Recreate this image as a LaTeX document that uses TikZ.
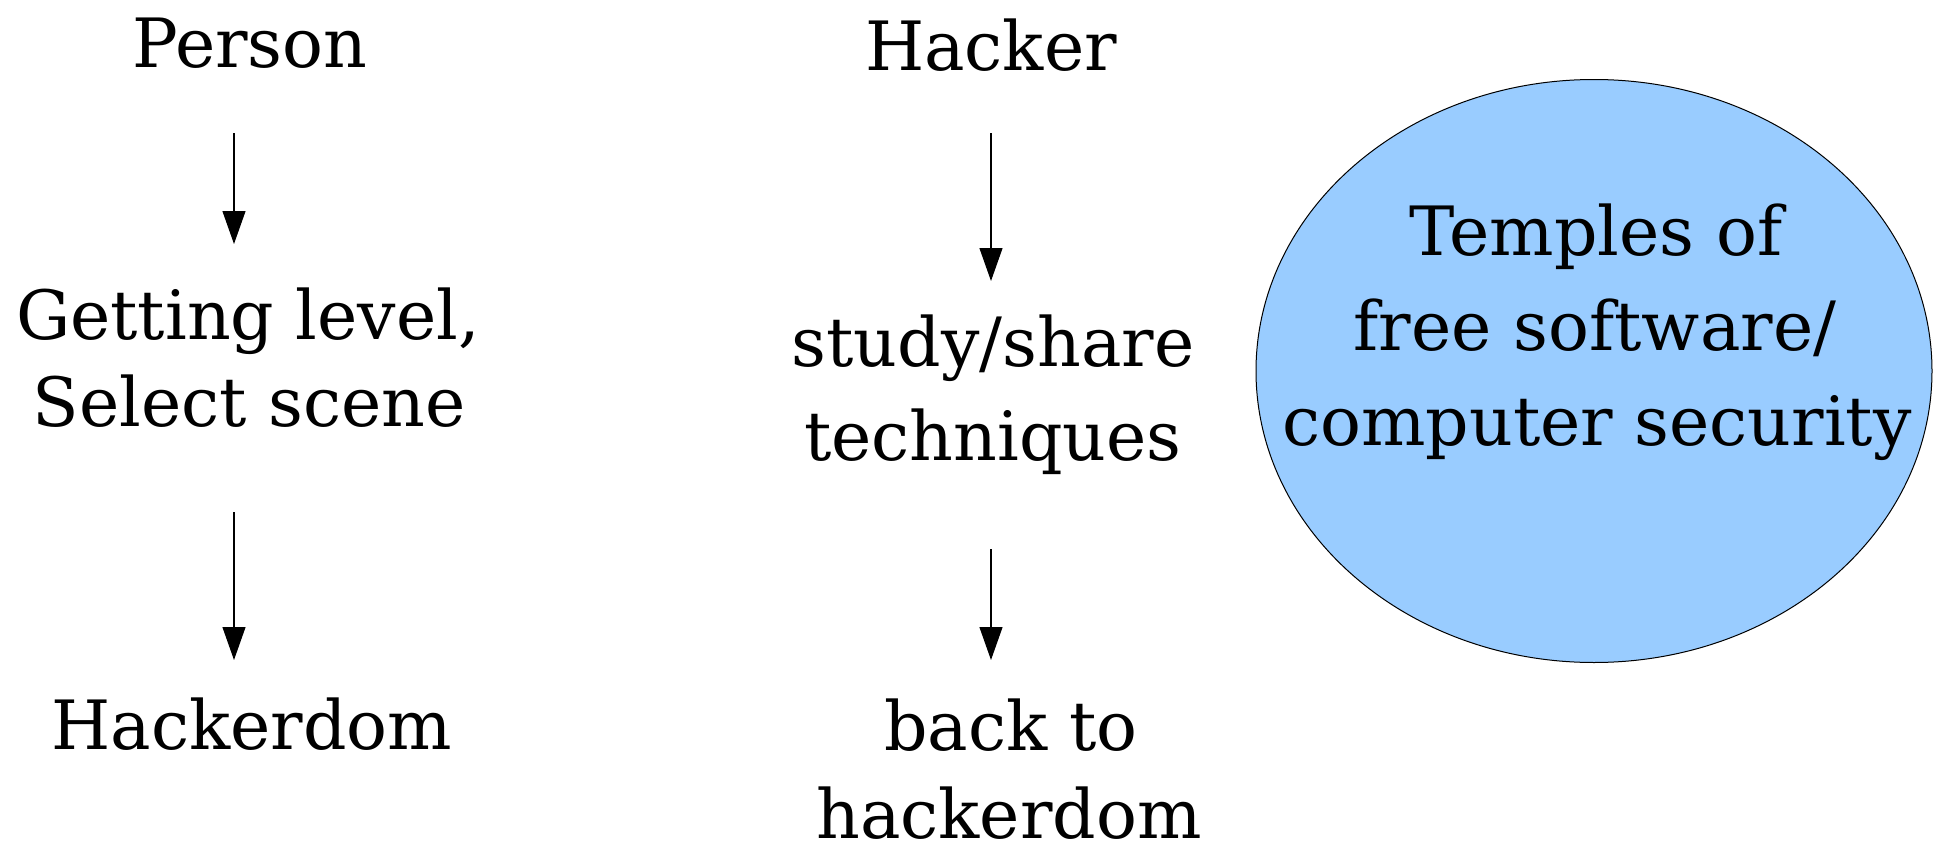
\documentclass[tikz,border=0pt]{standalone}
\usepackage{fontspec}
\setmainfont{DejaVu Serif}
\usetikzlibrary{arrows.meta,calc,shapes.geometric}
\definecolor{templeblue}{HTML}{99CCFF}
\tikzset{
  lbl/.style={anchor=base, inner sep=0pt, font=\rmfamily\fontsize{34}{40}\selectfont},
  arr/.style={line width=0.6pt, draw=black, -{Triangle[length=16.5pt,width=11.5pt]}},
}
\begin{document}
\begin{tikzpicture}[x=0.5pt, y=-0.5pt]
\useasboundingbox (0,0) rectangle (1935,846);
% ellipse
\node[ellipse, draw=black, line width=0.5pt, fill=templeblue, minimum width=338pt, minimum height=291.5pt, inner sep=0pt] (temple) at (1594,371) {};
% left column
\node[lbl] (person) at (250,68) {Person};
\node[lbl] (gl1) at (248,339) {Getting level,};
\node[lbl] (sel) at (249,426) {Select scene};
\node[lbl] (hd) at (252,749) {Hackerdom};
% middle column
\node[lbl] (hacker) at (991,70) {Hacker};
\node[lbl] (study) at (993,366) {study/share};
\node[lbl] (tech) at (993,460) {techniques};
\node[lbl] (back) at (1011,750) {back to};
\node[lbl] (hdm) at (1009,838) {hackerdom};
% ellipse text
\node[lbl] (t1) at (1596,255) {Temples of};
\node[lbl] (t2) at (1595,350) {free software/};
\node[lbl] (t3) at (1597,445) {computer security};
% arrows
\draw[arr] ($(person.base)+(-16,65)$) -- ($(gl1.base)+(-14,-95)$);
\draw[arr] ($(sel.base)+(-15,86)$) -- ($(hd.base)+(-18,-89)$);
\draw[arr] ($(hacker.base)+(0,63)$) -- ($(study.base)+(-2,-85)$);
\draw[arr] ($(tech.base)+(-2,89)$) -- ($(back.base)+(-20,-90)$);
\end{tikzpicture}
\end{document}
